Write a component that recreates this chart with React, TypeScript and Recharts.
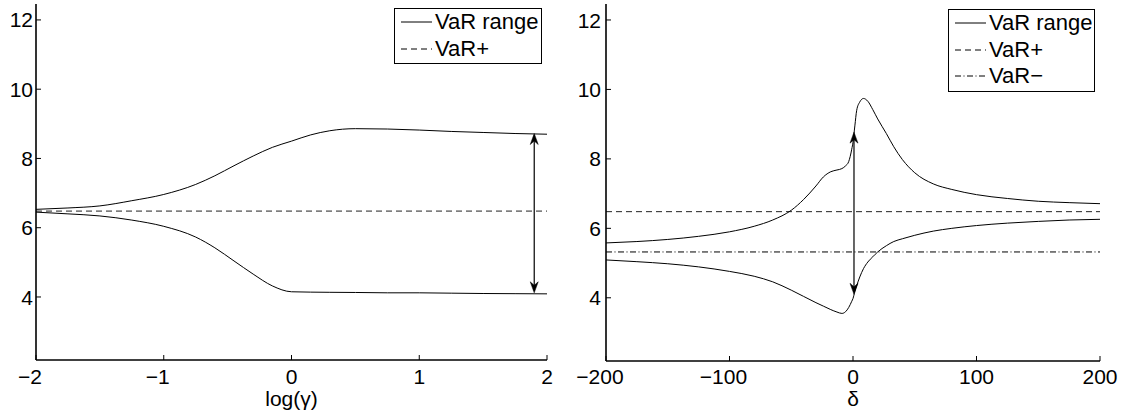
import React from 'react';
import { LineChart, Line, XAxis, YAxis, ReferenceLine, Legend } from 'recharts';

// ---------- data ----------
const gammaLog = [-2, -1.75, -1.5, -1.25, -1, -0.75, -0.6, -0.45, -0.3, -0.15, 0, 0.15, 0.3, 0.5, 0.75, 1, 1.25, 1.5, 1.75, 2];
const gammaUpper = [6.53, 6.57, 6.63, 6.78, 6.96, 7.25, 7.5, 7.79, 8.07, 8.32, 8.5, 8.68, 8.8, 8.86, 8.85, 8.82, 8.78, 8.75, 8.72, 8.7];
const gammaLower = [6.45, 6.4, 6.34, 6.22, 6.04, 5.73, 5.42, 5.04, 4.66, 4.32, 4.15, 4.14, 4.135, 4.13, 4.12, 4.12, 4.11, 4.1, 4.095, 4.09];

const deltaVals = [-200, -175, -150, -125, -100, -80, -65, -50, -40, -30, -24, -18, -13, -9, -6, -3.5, -1, 0, 1.5, 3, 5.5, 8.5, 12, 16, 20, 27, 33, 40, 50, 65, 80, 100, 125, 150, 175, 200];
const deltaUpper = [5.58, 5.62, 5.68, 5.77, 5.9, 6.06, 6.24, 6.52, 6.83, 7.22, 7.48, 7.63, 7.68, 7.72, 7.8, 7.92, 8.28, 8.48, 8.95, 9.4, 9.64, 9.74, 9.66, 9.42, 9.15, 8.73, 8.35, 7.98, 7.6, 7.28, 7.12, 6.97, 6.86, 6.78, 6.74, 6.71];
const deltaLower = [5.09, 5.04, 4.98, 4.89, 4.76, 4.62, 4.46, 4.22, 4.04, 3.86, 3.76, 3.66, 3.59, 3.55, 3.6, 3.72, 3.9, 3.98, 4.18, 4.35, 4.6, 4.84, 5.03, 5.18, 5.32, 5.5, 5.62, 5.7, 5.8, 5.92, 6.0, 6.08, 6.15, 6.2, 6.24, 6.26];

const varPlus = 6.48;
const varMinus = 5.32;

const gammaTicks = [-2, -1, 0, 1, 2];
const deltaTicks = [-200, -100, 0, 100, 200];
const yTicks = [4, 6, 8, 10, 12];
const gammaDomain: [number, number] = [-2, 2];
const deltaDomain: [number, number] = [-200, 200];
const yDomain: [number, number] = [2.18, 12.46];

const leftArrow = { x: 1.9, top: 8.72, bottom: 4.12 };
const rightArrow = { x: 0.8, top: 8.77, bottom: 4.1 };

const leftLegend = [
  { name: 'VaR range', dash: undefined as string | undefined },
  { name: 'VaR+', dash: '6 4' },
];
const rightLegend = [
  { name: 'VaR range', dash: undefined as string | undefined },
  { name: 'VaR+', dash: '6 4' },
  { name: 'VaR\u2212', dash: '6 2.5 1 2.5' },
];

// ---------- styling helpers ----------
const FONT = '"Liberation Sans", Arial, Helvetica, sans-serif';
const FS = 21;
const LEGEND_FS = 22;
const TICK_LEN = 5;
const AXIS_STROKE = { stroke: '#000', strokeWidth: 1.6 };

const fmt = (v: number) => (v < 0 ? '\u2212' + Math.abs(v) : String(v));

const makeBottomTick = (margin: number) => (props: any) => {
  const { x, y, payload } = props;
  const axisY = y - margin;
  const v = payload.value as number;
  return (
    <g>
      <line x1={x} x2={x} y1={axisY} y2={axisY - TICK_LEN} stroke="#000" strokeWidth={1} />
      <text x={x} y={y} dx={v < 0 ? -6 : 0} textAnchor="middle" fontSize={FS} fontFamily={FONT} fill="#000">
        {fmt(v)}
      </text>
    </g>
  );
};

const makeLeftTick = (margin: number) => (props: any) => {
  const { x, y, payload } = props;
  const axisX = x + margin;
  return (
    <g>
      <line x1={axisX} x2={axisX + TICK_LEN} y1={y} y2={y} stroke="#000" strokeWidth={1} />
      <text x={x} y={y} dy="0.36em" textAnchor="end" fontSize={FS} fontFamily={FONT} fill="#000">
        {fmt(payload.value)}
      </text>
    </g>
  );
};

const TopTick = (props: any) => {
  const { x, y } = props;
  return <line x1={x} x2={x} y1={y} y2={y + TICK_LEN} stroke="#000" strokeWidth={1} />;
};

const RightTick = (props: any) => {
  const { x, y } = props;
  return <line x1={x} x2={x - TICK_LEN} y1={y} y2={y} stroke="#000" strokeWidth={1} />;
};

const ArrowShape = (p: any) => {
  const { x1, y1, x2, y2 } = p;
  const top = Math.min(y1, y2);
  const bot = Math.max(y1, y2);
  const L = 11, W = 4, N = 7.5;
  const head = (tx: number, ty: number, dir: number) => (
    <path
      d={`M${tx},${ty} L${tx - W},${ty - dir * L} L${tx},${ty - dir * N} L${tx + W},${ty - dir * L} Z`}
      fill="#000"
      stroke="#000"
      strokeWidth={0.5}
    />
  );
  return (
    <g>
      <line x1={x1} y1={top + 2} x2={x2} y2={bot - 2} stroke="#000" strokeWidth={1.2} />
      {head(x1, top, -1)}
      {head(x1, bot, 1)}
    </g>
  );
};

const LegendBox = ({ items }: { items: { name: string; dash?: string }[] }) => (
  <div
    style={{
      boxSizing: 'border-box',
      width: '100%',
      height: '100%',
      border: '1.6px solid #000',
      background: '#fff',
      fontFamily: FONT,
      fontSize: LEGEND_FS,
      color: '#000',
    }}
  >
    {items.map((it) => (
      <div key={it.name} style={{ display: 'flex', alignItems: 'center', height: 26.5, paddingLeft: 6 }}>
        <svg width={31} height={26.5} style={{ display: 'block', flex: 'none' }}>
          <line x1={0} x2={31} y1={13} y2={13} stroke="#000" strokeWidth={1} strokeDasharray={it.dash} />
        </svg>
        <span style={{ marginLeft: 3, lineHeight: '26.5px', whiteSpace: 'nowrap' }}>{it.name}</span>
      </div>
    ))}
  </div>
);

// ---------- panels ----------
const leftData = gammaLog.map((x, i) => ({ x, upper: gammaUpper[i], lower: gammaLower[i] }));
const rightData = deltaVals.map((x, i) => ({ x, upper: deltaUpper[i], lower: deltaLower[i] }));

const LeftPanel = () => (
  <LineChart width={560} height={417} data={leftData} margin={{ top: 4, right: 13, bottom: 0, left: 0 }}>
    <XAxis
      xAxisId="b"
      dataKey="x"
      type="number"
      domain={gammaDomain}
      ticks={gammaTicks}
      interval={0}
      allowDataOverflow
      height={57}
      tickSize={0}
      tickMargin={24}
      tickLine={false}
      axisLine={AXIS_STROKE}
      tick={makeBottomTick(24)}
      label={{ value: 'log(\u03b3)', position: 'insideBottom', offset: 11, fontSize: FS, fill: '#000', fontFamily: FONT }}
    />
    <XAxis
      xAxisId="t"
      dataKey="x"
      type="number"
      orientation="top"
      domain={gammaDomain}
      ticks={gammaTicks}
      interval={0}
      allowDataOverflow
      height={0}
      tickSize={0}
      tickMargin={0}
      tickLine={false}
      axisLine={AXIS_STROKE}
      tick={TopTick}
    />
    <YAxis
      yAxisId="l"
      type="number"
      domain={yDomain}
      ticks={yTicks}
      interval={0}
      allowDataOverflow
      width={36}
      tickSize={0}
      tickMargin={3}
      tickLine={false}
      axisLine={AXIS_STROKE}
      tick={makeLeftTick(3)}
    />
    <YAxis
      yAxisId="r"
      type="number"
      orientation="right"
      domain={yDomain}
      ticks={yTicks}
      interval={0}
      allowDataOverflow
      width={0}
      tickSize={0}
      tickMargin={0}
      tickLine={false}
      axisLine={AXIS_STROKE}
      tick={RightTick}
    />
    <ReferenceLine xAxisId="b" yAxisId="l" y={varPlus} stroke="#222" strokeWidth={1} strokeDasharray="6 4" />
    <Line xAxisId="b" yAxisId="l" type="monotone" dataKey="upper" stroke="#000" strokeWidth={1} dot={false} isAnimationActive={false} />
    <Line xAxisId="b" yAxisId="l" type="monotone" dataKey="lower" stroke="#000" strokeWidth={1} dot={false} isAnimationActive={false} legendType="none" />
    <Line xAxisId="t" yAxisId="r" dataKey="upper" stroke="none" dot={false} activeDot={false} isAnimationActive={false} legendType="none" />
    <ReferenceLine
      xAxisId="b"
      yAxisId="l"
      segment={[{ x: leftArrow.x, y: leftArrow.top }, { x: leftArrow.x, y: leftArrow.bottom }]}
      shape={ArrowShape}
    />
    <Legend
      layout="vertical"
      align="center"
      verticalAlign="middle"
      wrapperStyle={{ top: 8, left: 394, width: 148, height: 56 }}
      content={() => <LegendBox items={leftLegend} />}
    />
  </LineChart>
);

const RightPanel = () => (
  <LineChart width={567} height={417} data={rightData} margin={{ top: 4, right: 27, bottom: 0, left: 0 }}>
    <XAxis
      xAxisId="b"
      dataKey="x"
      type="number"
      domain={deltaDomain}
      ticks={deltaTicks}
      interval={0}
      allowDataOverflow
      height={56}
      tickSize={0}
      tickMargin={23}
      tickLine={false}
      axisLine={AXIS_STROKE}
      tick={makeBottomTick(23)}
      label={{ value: '\u03b4', position: 'insideBottom', offset: 11, fontSize: FS, fill: '#000', fontFamily: FONT }}
    />
    <XAxis
      xAxisId="t"
      dataKey="x"
      type="number"
      orientation="top"
      domain={deltaDomain}
      ticks={deltaTicks}
      interval={0}
      allowDataOverflow
      height={0}
      tickSize={0}
      tickMargin={0}
      tickLine={false}
      axisLine={AXIS_STROKE}
      tick={TopTick}
    />
    <YAxis
      yAxisId="l"
      type="number"
      domain={yDomain}
      ticks={yTicks}
      interval={0}
      allowDataOverflow
      width={46}
      tickSize={0}
      tickMargin={5}
      tickLine={false}
      axisLine={AXIS_STROKE}
      tick={makeLeftTick(5)}
    />
    <YAxis
      yAxisId="r"
      type="number"
      orientation="right"
      domain={yDomain}
      ticks={yTicks}
      interval={0}
      allowDataOverflow
      width={0}
      tickSize={0}
      tickMargin={0}
      tickLine={false}
      axisLine={AXIS_STROKE}
      tick={RightTick}
    />
    <ReferenceLine xAxisId="b" yAxisId="l" y={varPlus} stroke="#222" strokeWidth={1} strokeDasharray="6 4" />
    <ReferenceLine xAxisId="b" yAxisId="l" y={varMinus} stroke="#000" strokeWidth={1} strokeDasharray="6 2.5 1 2.5" />
    <Line xAxisId="b" yAxisId="l" type="monotone" dataKey="upper" stroke="#000" strokeWidth={1} dot={false} isAnimationActive={false} />
    <Line xAxisId="b" yAxisId="l" type="monotone" dataKey="lower" stroke="#000" strokeWidth={1} dot={false} isAnimationActive={false} legendType="none" />
    <Line xAxisId="t" yAxisId="r" dataKey="upper" stroke="none" dot={false} activeDot={false} isAnimationActive={false} legendType="none" />
    <ReferenceLine
      xAxisId="b"
      yAxisId="l"
      segment={[{ x: rightArrow.x, y: rightArrow.top }, { x: rightArrow.x, y: rightArrow.bottom }]}
      shape={ArrowShape}
    />
    <Legend
      layout="vertical"
      align="center"
      verticalAlign="middle"
      wrapperStyle={{ top: 9, left: 388, width: 147, height: 82.5 }}
      content={() => <LegendBox items={rightLegend} />}
    />
  </LineChart>
);

export default function App() {
  return (
    <div style={{ position: 'absolute', left: 0, top: 0, width: 1127, height: 417, background: '#fff', overflow: 'hidden' }}>
      <div style={{ position: 'absolute', left: 0, top: 0 }}>
        <LeftPanel />
      </div>
      <div style={{ position: 'absolute', left: 560, top: 0 }}>
        <RightPanel />
      </div>
    </div>
  );
}
